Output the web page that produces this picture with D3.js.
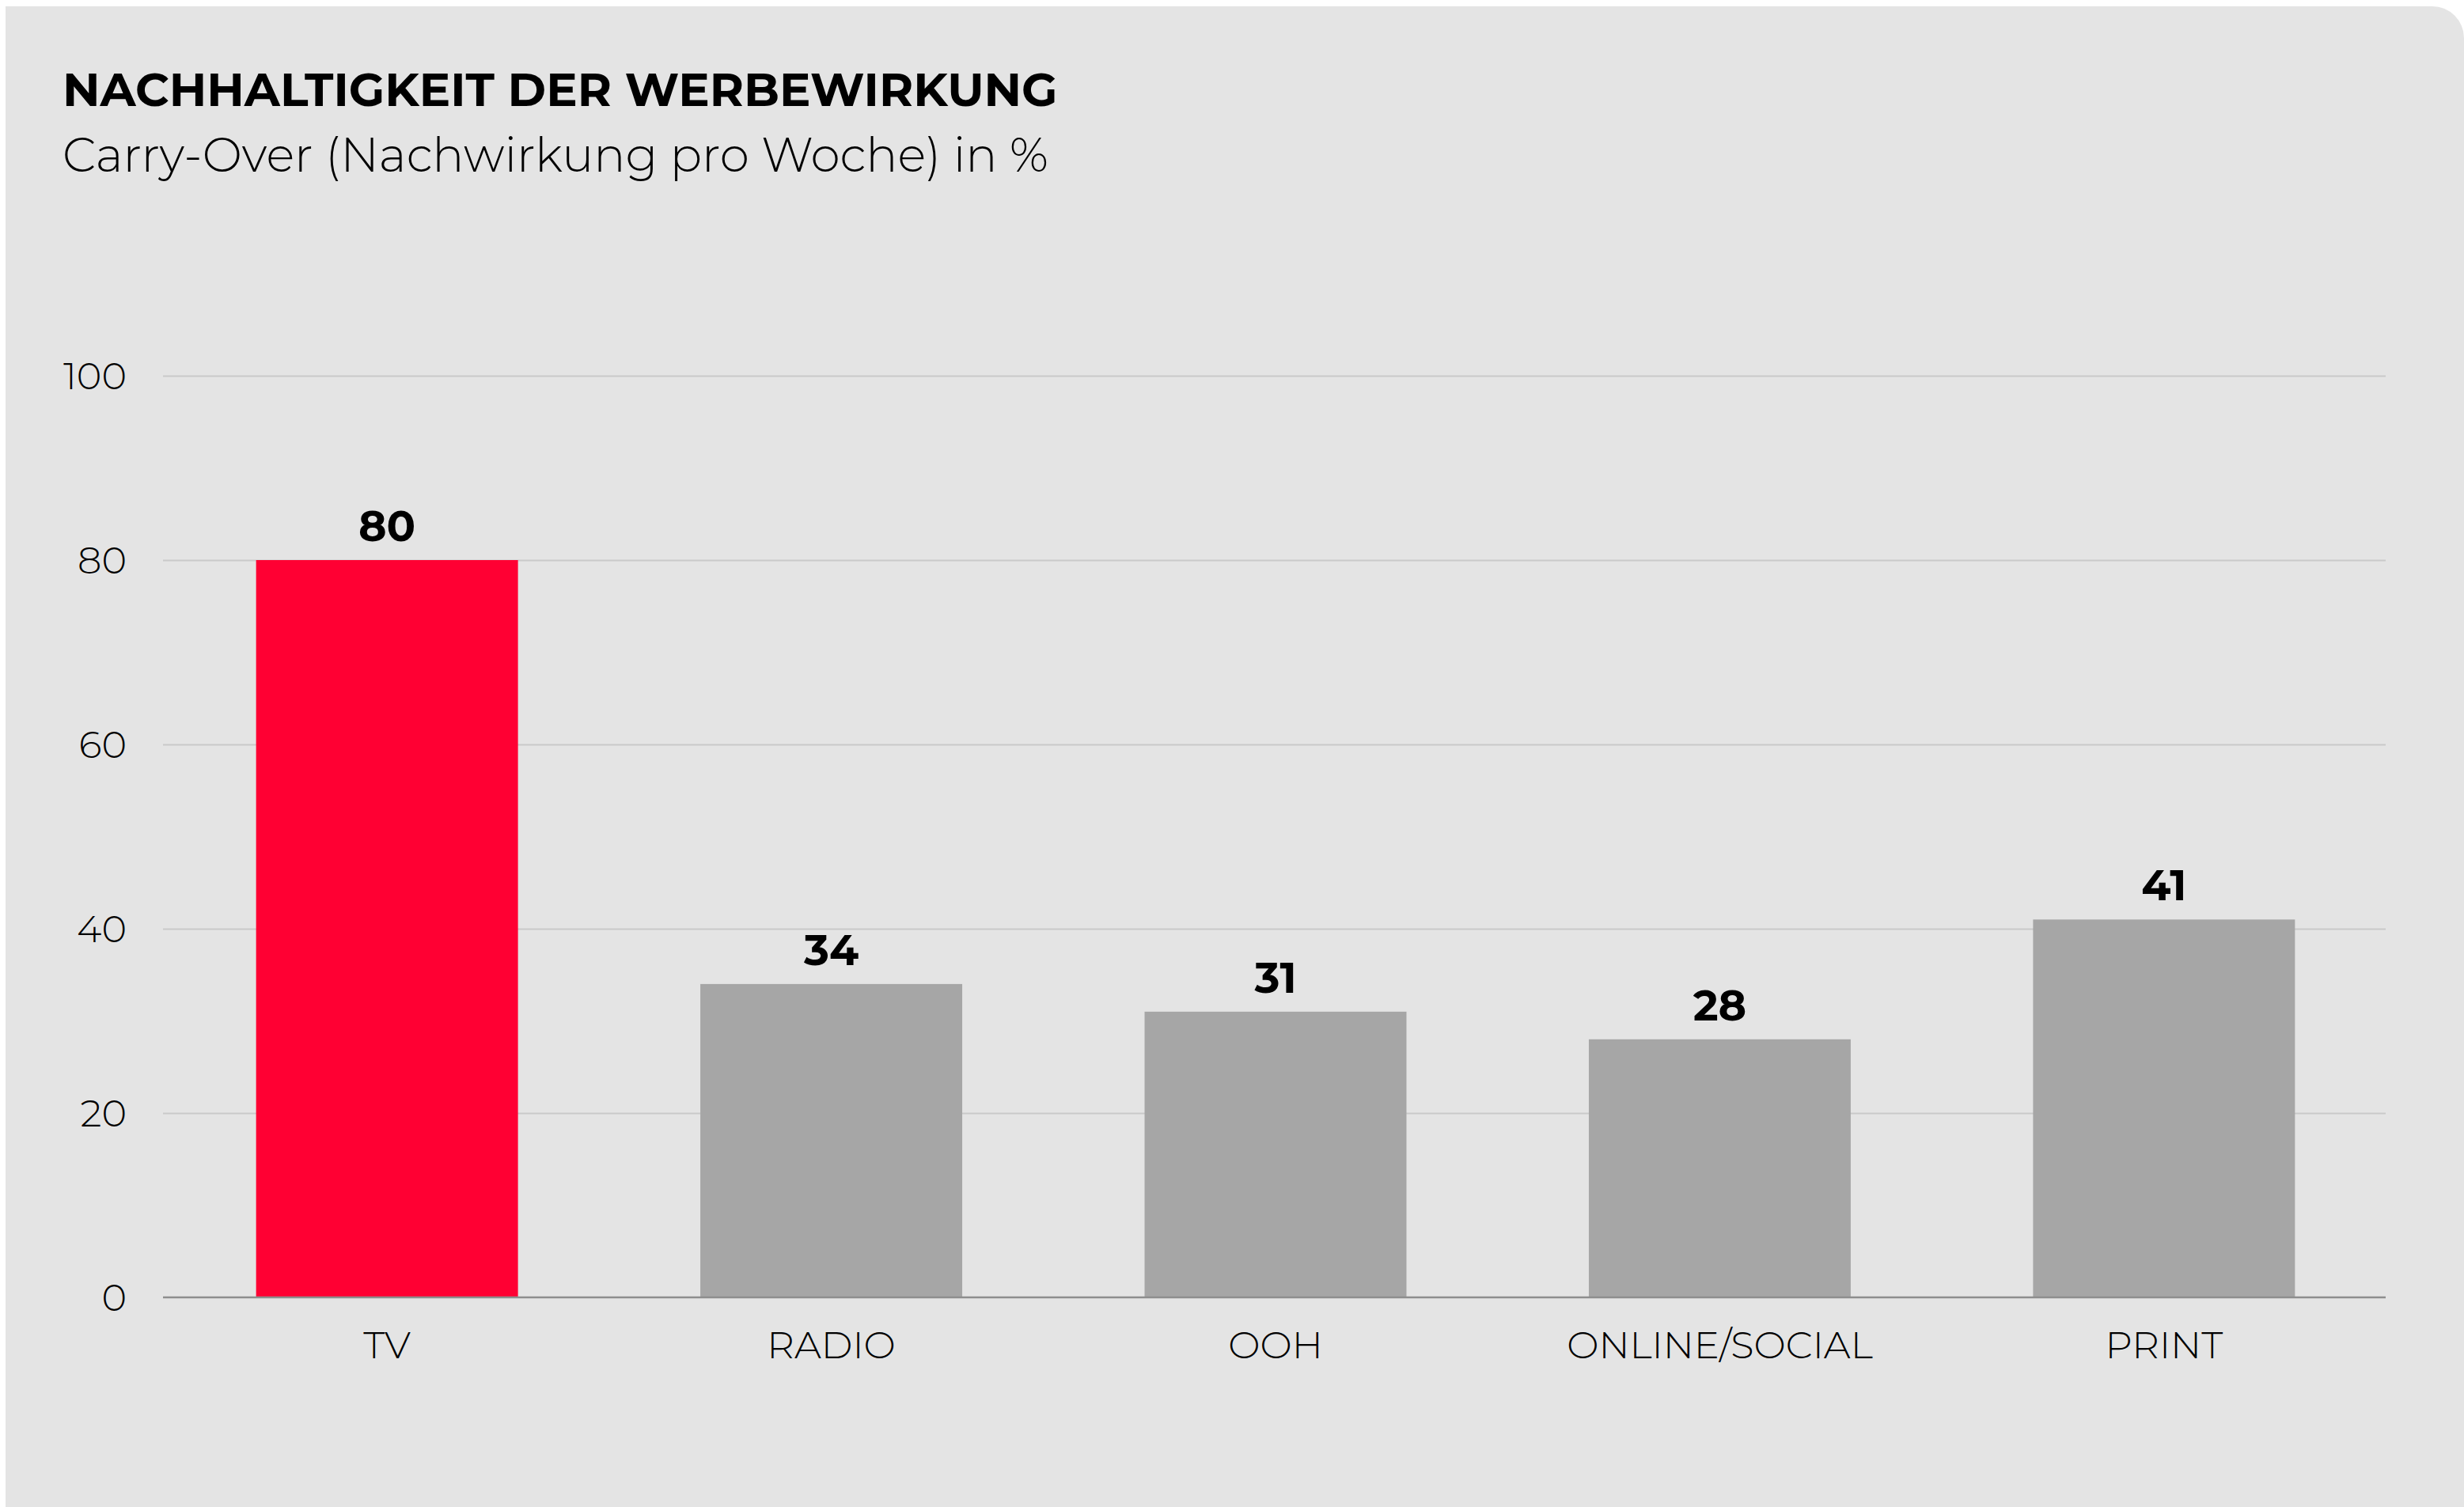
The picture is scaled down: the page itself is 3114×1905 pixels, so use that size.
<!DOCTYPE html>
<html>
<head>
<meta charset="utf-8">
<script src="https://cdn.jsdelivr.net/npm/d3@7"></script>
<style>
  html, body { margin: 0; padding: 0; background: #ffffff; }
  svg { display: block; }
  text { font-family: "Montserrat", "Inter", "Noto Sans", sans-serif; fill: #000; }
</style>
</head>
<body>
<svg id="chart" width="3114" height="1905"></svg>
<script>
// ---- data ----
const categories = ["TV", "RADIO", "OOH", "ONLINE/SOCIAL", "PRINT"];
const values = [80, 34, 31, 28, 41];
const yTicks = [0, 20, 40, 60, 80, 100];
const titleText = "NACHHALTIGKEIT DER WERBEWIRKUNG";
const subtitleText = "Carry-Over (Nachwirkung pro Woche) in %";

// ---- layout ----
const W = 3114, H = 1905;
const svg = d3.select("#chart");

// background panel with rounded top-right corner
const px = 7, py = 8, r = 40;
svg.append("path")
  .attr("d", `M${px},${py} H${W - r} A${r},${r} 0 0 1 ${W},${py + r} V${H + 10} H${px} Z`)
  .attr("fill", "#e4e4e4");

const gx0 = 206, gx1 = 3015;
const x = d3.scaleBand().domain(categories).range([208, 3016]).paddingInner(0.4105).paddingOuter(0.206);
const y = d3.scaleLinear().domain([0, 100]).range([1640, 475]);

// gridlines
const grid = svg.append("g").attr("transform", `translate(${gx0},0)`)
  .call(d3.axisLeft(y).tickValues(yTicks.filter(d => d > 0)).tickSize(-(gx1 - gx0)).tickFormat(""));
grid.select(".domain").remove();
grid.selectAll("line").attr("stroke", "#c9c9c9").attr("stroke-width", 2);

// y tick labels
svg.append("g").selectAll("text").data(yTicks).join("text")
  .attr("x", 160).attr("y", d => y(d)).attr("dy", "0.35em")
  .attr("text-anchor", "end")
  .attr("font-size", 48).attr("font-weight", 300)
  .text(d => d);

// bars
svg.append("g").selectAll("rect").data(values).join("rect")
  .attr("x", (d, i) => x(categories[i]))
  .attr("width", x.bandwidth())
  .attr("y", d => y(d))
  .attr("height", d => y(0) - y(d))
  .attr("fill", (d, i) => i === 0 ? "#ff0033" : "#a6a6a6");

// baseline
svg.append("line")
  .attr("x1", gx0).attr("x2", gx1).attr("y1", y(0)).attr("y2", y(0))
  .attr("stroke", "#8e8e8e").attr("stroke-width", 2.5);

// value labels
svg.append("g").selectAll("text").data(values).join("text")
  .attr("x", (d, i) => x(categories[i]) + x.bandwidth() / 2)
  .attr("y", d => y(d) - 24)
  .attr("text-anchor", "middle")
  .attr("font-size", 54).attr("font-weight", 700)
  .text(d => d);

// category labels
const xa = svg.append("g").attr("transform", `translate(0,${y(0)})`)
  .call(d3.axisBottom(x).tickSize(0).tickPadding(0));
xa.select(".domain").remove();
xa.attr("font-family", null).attr("font-size", null);
xa.selectAll("text")
  .attr("y", 77).attr("dy", 0)
  .attr("font-size", 48).attr("font-weight", 300);

// title + subtitle, fitted to reference width
function fit(sel, target) {
  const len = sel.node().getComputedTextLength();
  const fs = parseFloat(sel.attr("font-size"));
  sel.attr("font-size", fs * target / len);
}
const t = svg.append("text").attr("x", 79).attr("y", 134)
  .attr("font-size", 56).attr("font-weight", 700).text(titleText);
fit(t, 1258);
const st = svg.append("text").attr("x", 79).attr("y", 217)
  .attr("font-size", 56).attr("font-weight", 300).text(subtitleText);
fit(st, 1246);
</script>
</body>
</html>
